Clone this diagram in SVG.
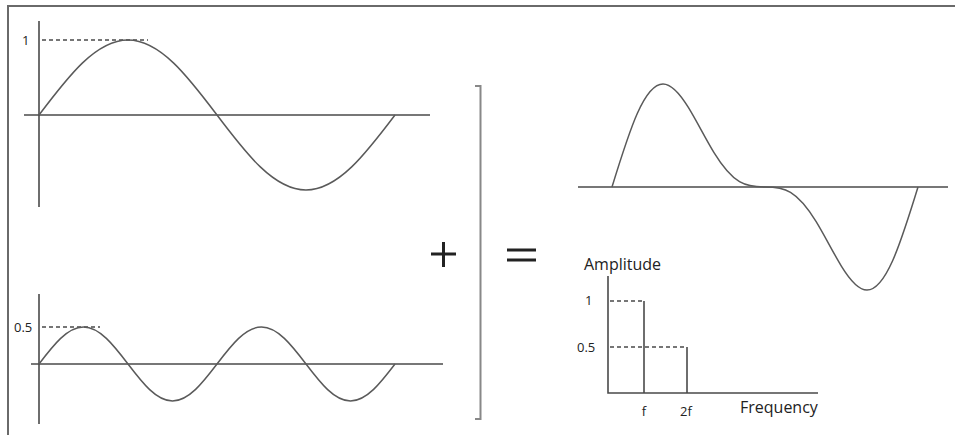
<svg xmlns="http://www.w3.org/2000/svg" width="955" height="435" viewBox="0 0 955 435">
<style>
.frame{fill:none;stroke:#6a6a6a;stroke-width:2}
.axis{fill:none;stroke:#4a4a4a;stroke-width:1.6}
.wave{fill:none;stroke:#5a5a5a;stroke-width:1.5;stroke-linejoin:round}
.dash{fill:none;stroke:#4a4a4a;stroke-width:1.3;stroke-dasharray:4 3}
.sym{fill:none;stroke:#222;stroke-width:3}
.lbl{font-family:"Open Sans","DejaVu Sans",sans-serif;fill:#222}
.sm{font-size:13px}
.lg{font-size:16px}
</style>
<rect width="955" height="435" fill="#fff"/>
<g id="frame">
<path class="frame" d="M8,435 V6 H955"/>
</g>
<g id="wave-f">
<line class="axis" x1="39" y1="21" x2="39" y2="207"/>
<line class="axis" x1="24" y1="115" x2="430" y2="115"/>
<line class="dash" x1="42" y1="40" x2="148" y2="40"/>
<text class="lbl sm" x="22" y="45">1</text>
<path class="wave" d="M39,115 C68,76.6 95.8,40 128,40 C160.2,40 188,76.6 217,115 C246,153.4 273.8,190 306,190 C338.2,190 366,153.4 395,115"/>
</g>
<g id="wave-2f">
<line class="axis" x1="39" y1="294" x2="39" y2="424"/>
<line class="axis" x1="31" y1="364" x2="443" y2="364"/>
<line class="dash" x1="42" y1="327" x2="100" y2="327"/>
<text class="lbl sm" x="14" y="332">0.5</text>
<path class="wave" d="M39,364 C53.5,345 67.4,327 83.5,327 C99.6,327 113.5,345 128,364 C142.5,383 156.4,401 172.5,401 C188.6,401 202.5,383 217,364 C231.5,345 245.4,327 261.5,327 C277.6,327 291.5,345 306,364 C320.5,383 334.4,401 350.5,401 C366.6,401 380.5,383 395,364"/>
</g>
<g id="plus">
<path class="sym" d="M431,254 H456 M443.5,242 V267"/>
</g>
<g id="bracket">
<path fill="none" stroke="#888" stroke-width="2" d="M475,86 H480.5 V419 H475"/>
</g>
<g id="equals">
<path class="sym" d="M507,250 H536 M507,260 H536"/>
</g>
<g id="wave-sum">
<line class="axis" x1="578" y1="187" x2="948" y2="187"/>
<path class="wave" d="M612,187 C620.5,159.32 629,131.92 637.5,113.01 C646,94.1 654.5,83.99 663,83.99 C671.5,83.99 680,93.86 688.5,107.7 C697,121.54 705.5,138.82 714,152.66 C722.5,166.5 731,176.62 739.5,181.69 C748,186.76 756.5,187 765,187 C773.5,187 782,187.24 790.5,192.31 C799,197.38 807.5,207.5 816,221.34 C824.5,235.18 833,252.46 841.5,266.3 C850,280.14 858.5,290.01 867,290.01 C875.5,290.01 884,279.9 892.5,260.99 C901,242.08 909.5,214.68 918,187"/>
</g>
<g id="spectrum">
<text class="lbl lg" x="584" y="270">Amplitude</text>
<path class="axis" d="M608,276 V393 H818"/>
<line class="axis" x1="644" y1="301" x2="644" y2="393"/>
<line class="axis" x1="687" y1="347" x2="687" y2="393"/>
<line class="dash" x1="610" y1="301" x2="644" y2="301"/>
<line class="dash" x1="610" y1="347" x2="687" y2="347"/>
<text class="lbl sm" x="585" y="305">1</text>
<text class="lbl sm" x="577" y="352">0.5</text>
<text class="lbl sm" x="644" y="416" text-anchor="middle">f</text>
<text class="lbl sm" x="686" y="416" text-anchor="middle">2f</text>
<text class="lbl lg" x="740" y="413">Frequency</text>
</g>
</svg>
